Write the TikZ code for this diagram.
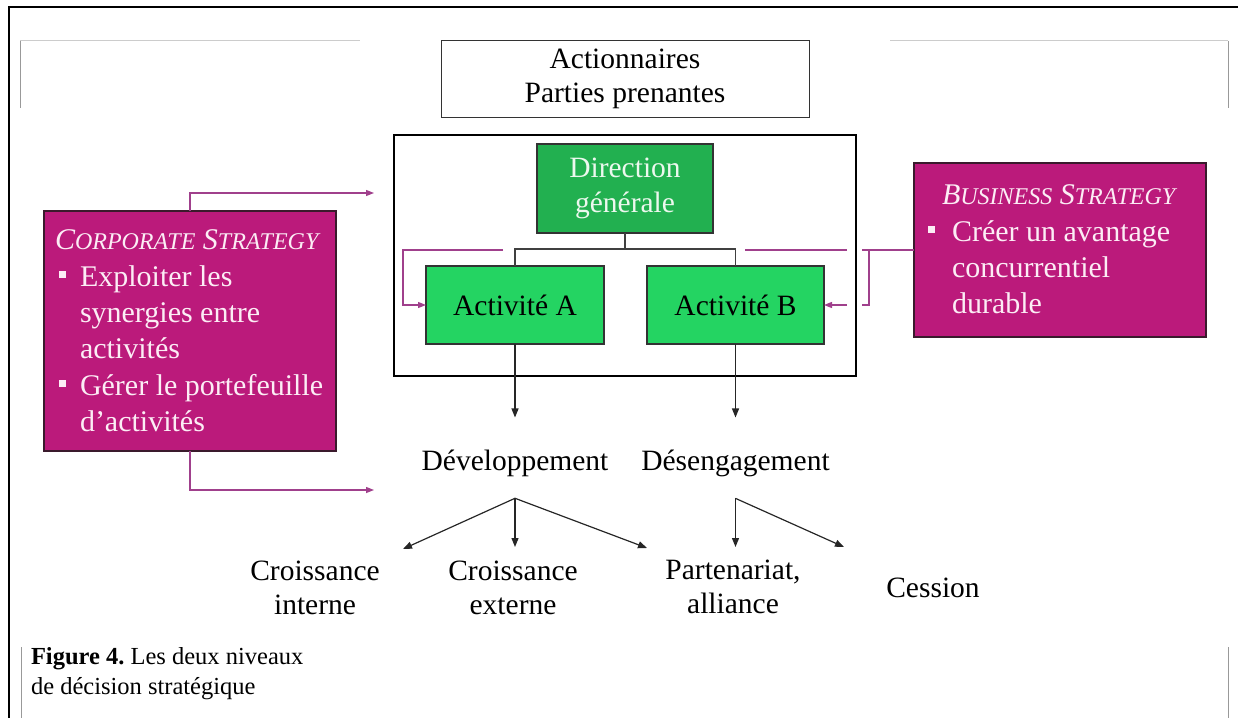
\documentclass[tikz,border=0pt]{standalone}
\usepackage{fontspec}
\setmainfont{Liberation Serif}
\usetikzlibrary{arrows.meta}
\frenchspacing

\definecolor{magfill}{HTML}{BB1A7B}
\definecolor{magedge}{HTML}{3A1A2C}
\definecolor{maglink}{HTML}{A0408C}
\definecolor{magtxt}{HTML}{FCEDF5}
\definecolor{dgfill}{HTML}{22B050}
\definecolor{actfill}{HTML}{24D462}
\definecolor{dgtxt}{HTML}{ECF8EE}
\definecolor{boxline}{HTML}{333333}
\definecolor{rulelt}{HTML}{CCCCCC}
\definecolor{ruledk}{HTML}{999999}

\newcommand\bigtxt{\fontsize{29.5}{34.5}\selectfont}
\newcommand\magfont{\fontsize{30}{36.3}\selectfont}
\newcommand\captxt{\fontsize{24.5}{30}\selectfont}
\newcommand\puce{\raisebox{8pt}{\rule{7pt}{7pt}}}
\newcommand\scap[2]{{\fontsize{30}{36.3}\selectfont #1}{\fontsize{24}{36.3}\selectfont #2}}

\begin{document}
\begin{tikzpicture}[x=1pt,y=-1pt,
  every node/.style={inner sep=0pt, outer sep=0pt},
  sharebox/.style={draw=boxline, line width=1pt, align=center, font=\bigtxt},
  greenbox/.style={draw=boxline, line width=1.2pt, align=center, font=\bigtxt},
  magbox/.style={draw=magedge, line width=1.3pt, fill=magfill},
  magtext/.style={text=magtxt, font=\magfont, align=left},
  lbl/.style={font=\bigtxt},
  tree/.style={draw=black!75, line width=1.3pt},
  arr/.style={draw=black!85, line width=1.2pt, -{Triangle[length=9pt,width=7pt]}},
  plink/.style={draw=maglink, line width=1.3pt},
  plinkarr/.style={plink, -{Triangle[length=8pt,width=6pt]}},
  rulelight/.style={draw=rulelt, line width=1pt},
  ruledark/.style={draw=ruledk, line width=1pt}]
\useasboundingbox (0,0) rectangle (1238,717);

% page frame and guide rules
\draw[line width=2.6pt] (1250,7) -- (9,7) -- (9,730);
\draw[rulelight] (20,41) -- (360,41);
\draw[ruledark] (20,41) -- (20,108);
\draw[rulelight] (890,41) -- (1228,41);
\draw[ruledark] (1228,41) -- (1228,108);
\draw[ruledark] (21,647) -- (21,725);
\draw[ruledark] (1228,647) -- (1228,725);

% stakeholders and the firm
\node[sharebox, minimum width=368pt, minimum height=76pt] (share) at (625,79) {Actionnaires\\Parties prenantes};
\node[draw=black, line width=1.2pt, minimum width=462pt, minimum height=241pt] (org) at (625,255.5) {};
\node[greenbox, fill=dgfill, text=dgtxt, minimum width=176pt, minimum height=89pt] (dg) at (625,188.5) {Direction\\générale};
\node[greenbox, fill=actfill, minimum width=178pt, minimum height=78pt] (actA) at (515,305) {Activité A};
\node[greenbox, fill=actfill, minimum width=177pt, minimum height=78pt] (actB) at (735.5,305) {Activité B};

% organisation tree
\coordinate (fork) at (625,249);
\draw[tree] (dg.south) -- (fork);
\draw[tree] (fork) -| (actA.north);
\draw[tree] (fork) -| (actB.north);

% strategic options
\node[lbl, anchor=base] (dev) at (515,470) {Développement};
\node[lbl, anchor=base] (dis) at (735.5,470) {Désengagement};
\node[lbl, align=center] (ci) at (315,588) {Croissance\\interne};
\node[lbl, align=center] (ce) at (513,588) {Croissance\\externe};
\node[lbl, align=center] (pa) at (733,587) {Partenariat,\\alliance};
\node[lbl, anchor=base] (ces) at (933,597) {Cession};

\draw[arr, shorten >=32pt] (actA.south) -- (dev.north);
\draw[arr, shorten >=32pt] (actB.south) -- (dis.north);

\coordinate (devFork) at ([yshift=-22pt]dev.south);
\coordinate (disFork) at ([yshift=-22pt]dis.south);
\coordinate (tipCI) at (403,549);
\coordinate (tipCE) at (515,547);
\coordinate (tipPA) at (647,548);
\coordinate (tipAl) at (735.5,547);
\coordinate (tipCes) at (844,547);
\draw[arr] (devFork) -- (tipCI);
\draw[arr] (devFork) -- (tipCE);
\draw[arr] (devFork) -- (tipPA);
\draw[arr] (disFork) -- (tipAl);
\draw[arr] (disFork) -- (tipCes);

% corporate strategy
\node[magbox, minimum width=292pt, minimum height=240pt] (corp) at (190,331) {};
\node[magtext, anchor=north west] (corpTxt) at (55,230) {%
\textit{\scap{C}{ORPORATE} \scap{S}{TRATEGY}}\\
\hspace*{4pt}\puce\hspace{14pt}Exploiter les\\
\hspace*{25pt}synergies entre\\
\hspace*{25pt}activités\\
\hspace*{4pt}\puce\hspace{14pt}Gérer le portefeuille\\
\hspace*{25pt}d’activités};

\coordinate (corpIn1) at (374,193);
\coordinate (corpIn2) at (374,490);
\draw[plinkarr] (corp.north) |- (corpIn1);
\draw[plinkarr] (corp.south) |- (corpIn2);

% business strategy
\node[magbox, minimum width=292pt, minimum height=174pt] (bus) at (1060,250) {};
\node[magtext, anchor=north west] (busTxt) at (927,185) {%
\hspace*{15pt}\textit{\scap{B}{USINESS} \scap{S}{TRATEGY}}\\
\hspace*{1pt}\puce\hspace{17pt}Créer un avantage\\
\hspace*{25pt}concurrentiel\\
\hspace*{25pt}durable};

% brackets towards the activities
\coordinate (brA0) at (503,250);
\coordinate (brA1) at (403,250);
\draw[plinkarr] (brA0) -- (brA1) |- (actA.west);

\coordinate (brB0) at (745,250);
\coordinate (brBgapL) at (847,250);
\coordinate (brBgapR) at (862,250);
\coordinate (brBj) at (869,250);
\coordinate (brBlowR) at (862,305);
\coordinate (brBlowL) at (847,305);
\draw[plink] (bus.west) -- (brBgapR);
\draw[plink] (brBgapL) -- (brB0);
\draw[plink] (brBj) |- (brBlowR);
\draw[plinkarr] (brBlowL) -- (actB.east);

% caption
\node[font=\captxt, align=left, anchor=north west] (cap) at (31,647) {\textbf{Figure 4.} Les deux niveaux\\de décision stratégique};
\end{tikzpicture}
\end{document}
